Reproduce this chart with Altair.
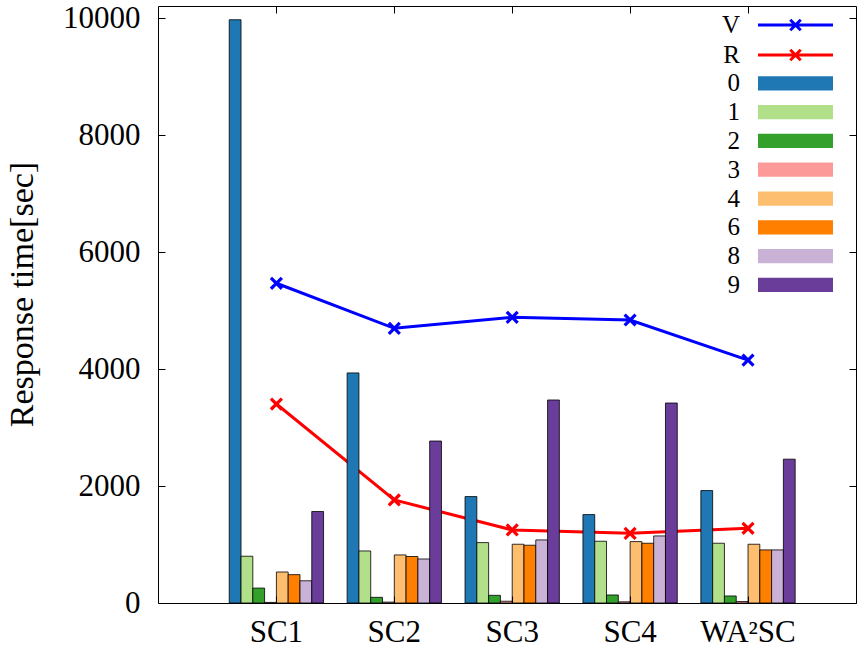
import altair as alt
import pandas as pd

# Scenario names along the x axis
groups = ["SC1", "SC2", "SC3", "SC4", "WA²SC"]

# Per-class response times (bars), one list per class
series = ["0", "1", "2", "3", "4", "6", "8", "9"]
bar_colors = ["#1f78b4", "#b2df8a", "#33a02c", "#fb9a99",
              "#fdbf6f", "#ff7f00", "#cab2d6", "#6a3d9a"]
cls_0 = [9975, 3935, 1820, 1512, 1923]
cls_1 = [800, 890, 1033, 1056, 1022]
cls_2 = [255, 97, 131, 137, 120]
cls_3 = [10, 15, 30, 20, 25]
cls_4 = [530, 822, 1005, 1050, 1005]
cls_6 = [485, 795, 988, 1022, 908]
cls_8 = [380, 753, 1079, 1147, 908]
cls_9 = [1565, 2770, 3472, 3420, 2460]
class_values = [cls_0, cls_1, cls_2, cls_3, cls_4, cls_6, cls_8, cls_9]

# Summary lines
line_names = ["V", "R"]
line_colors = ["#0000ff", "#ff0000"]
v_values = [5468, 4698, 4886, 4840, 4155]
r_values = [3403, 1762, 1249, 1192, 1278]

y_ticks = [0, 2000, 4000, 6000, 8000, 10000]

bars_df = pd.DataFrame(
    [{"group": g, "cls": s, "value": v}
     for s, vals in zip(series, class_values)
     for g, v in zip(groups, vals)]
)
lines_df = pd.DataFrame(
    [{"group": g, "kind": k, "value": v}
     for k, vals in zip(line_names, [v_values, r_values])
     for g, v in zip(groups, vals)]
)

FONT = "Liberation Serif"

x_scale = alt.Scale(domain=groups, paddingInner=0, paddingOuter=0.46, align=0.548)
y_scale = alt.Scale(domain=[0, 10210], nice=False, zero=True)

x_bottom = alt.Axis(
    orient="bottom", offset=-7, tickSize=7, domain=False, grid=False,
    labelAngle=0, labelFont=FONT, labelFontSize=31, labelColor="black",
    labelPadding=14, tickColor="black", title=None, zindex=1,
)
y_left = alt.Axis(
    orient="left", values=y_ticks, format="d", offset=-7, tickSize=7,
    domain=False, grid=False, labelFont=FONT, labelFontSize=31,
    labelColor="black", labelPadding=18, tickColor="black",
    title="Response time[sec]", titleFont=FONT, titleFontSize=34,
    titleFontWeight="normal", titleColor="black", titlePadding=23,
    titleY=288, zindex=1,
)
x_top = alt.Axis(orient="top", offset=-7, tickSize=7, domain=False, grid=False,
                 labels=False, tickColor="black", title=None, zindex=1)
y_right = alt.Axis(orient="right", values=y_ticks, offset=-7, tickSize=7,
                   domain=False, grid=False, labels=False, tickColor="black",
                   title=None, zindex=1)

# Wide legend swatches drawn to the right of each label:
# a line with a cross marker, and a flat bar
line_symbol = ("M4.067,0L14.067,0"
               "M8.367,-0.7L9.767,0.7M8.367,0.7L9.767,-0.7")
bar_symbol = "M4.067,-0.95L14.067,-0.95L14.067,0.95L4.067,0.95Z"
marker = "M-1,-1L1,1M-1,1L1,-1"

LEG_X = 557
stroke_scale = alt.Scale(domain=line_names, range=line_colors)

lines = alt.Chart(lines_df).mark_line(strokeWidth=3).encode(
    x=alt.X("group:N", sort=groups, scale=x_scale, axis=x_bottom),
    y=alt.Y("value:Q", scale=y_scale, axis=y_left),
    stroke=alt.Stroke(
        "kind:N", scale=stroke_scale, sort=line_names,
        legend=alt.Legend(
            title=None, orient="none", legendX=LEG_X, legendY=6.5, padding=0,
            symbolType=line_symbol, symbolSize=225, symbolStrokeWidth=3,
            symbolOffset=0, symbolFillColor="transparent",
            labelFont=FONT, labelFontSize=25, labelColor="black",
            labelAlign="right", labelOffset=0, rowPadding=4.0,
        ),
    ),
)

points = alt.Chart(lines_df).mark_point(
    shape=marker, size=120, strokeWidth=3.2, filled=False, opacity=1
).encode(
    x=alt.X("group:N", sort=groups, scale=x_scale, axis=None),
    y=alt.Y("value:Q", scale=y_scale, axis=None),
    stroke=alt.Stroke("kind:N", scale=stroke_scale, legend=None),
)

bars = alt.Chart(bars_df).mark_bar(
    stroke="black", strokeWidth=1, strokeOpacity=0.8
).encode(
    x=alt.X("group:N", sort=groups, scale=x_scale, axis=None),
    xOffset=alt.XOffset("cls:N", sort=series,
                        scale=alt.Scale(domain=series, paddingInner=0, paddingOuter=1)),
    y=alt.Y("value:Q", scale=y_scale, axis=None),
    fill=alt.Fill(
        "cls:N", scale=alt.Scale(domain=series, range=bar_colors),
        legend=alt.Legend(
            title=None, orient="none", legendX=LEG_X, legendY=64.8, padding=0,
            symbolType=bar_symbol, symbolSize=225, symbolStrokeWidth=0,
            symbolOffset=0, symbolOpacity=1,
            labelFont=FONT, labelFontSize=25, labelColor="black",
            labelAlign="right", labelOffset=0, rowPadding=2.8,
        ),
    ),
)

frame_ticks = alt.Chart(lines_df).mark_point(opacity=0).encode(
    x=alt.X("group:N", sort=groups, scale=x_scale, axis=x_top),
    y=alt.Y("value:Q", scale=y_scale, axis=y_right),
)

chart = (
    alt.layer(lines, points, bars, frame_ticks)
    .resolve_axis(x="independent", y="independent")
    .properties(
        width=698, height=597,
        padding={"left": 158, "top": 6, "right": 3, "bottom": 47},
        autosize=alt.AutoSizeParams(type="none"),
        background="white",
    )
    .configure_view(stroke="black", strokeWidth=1)
)

chart.save("out.html", embed_options={"renderer": "svg", "actions": False})
